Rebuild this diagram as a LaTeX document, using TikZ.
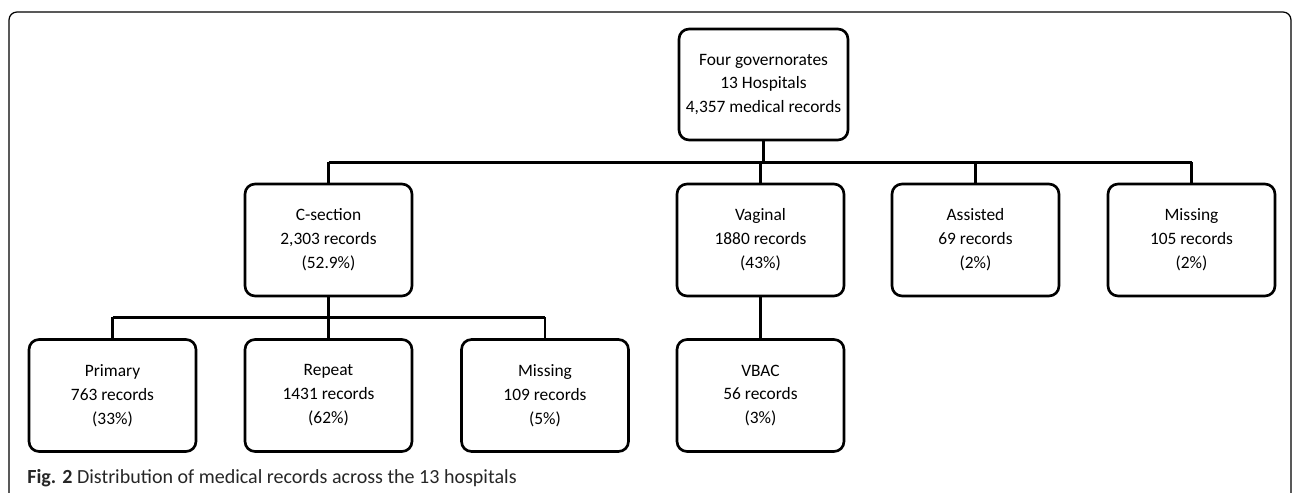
\documentclass[tikz,border=0pt]{standalone}
\usepackage{fontspec}
\setmainfont{Carlito}
\usepackage{tikz}
\usetikzlibrary{positioning,calc}

\begin{document}
\begin{tikzpicture}[x=0.02cm,y=-0.02cm,
  box/.style={draw,line width=1.5pt,rounded corners=0.2cm,minimum width=3.34cm,minimum height=2.24cm,align=center,inner sep=0pt,font=\fontsize{9.9}{13.6}\selectfont},
  link/.style={line width=1.5pt},
  frame/.style={line width=0.7pt,rounded corners=0.16cm}]
\useasboundingbox (0,0) rectangle (1292,493);
\draw[frame] (9,12) rectangle (1291,520);
% top level
\node[box,minimum width=3.38cm,minimum height=2.22cm] (top) at (763.5,84.5) {Four governorates\\13 Hospitals\\4,357 medical records};
% mode of delivery
\node[box] (cs) at (328.5,240) {C-section\\2,303 records\\(52.9\%)};
\node[box] (vag) at (760.5,240) {Vaginal\\1880 records\\(43\%)};
\node[box] (ass) at (975.5,240) {Assisted\\69 records\\(2\%)};
\node[box] (mis) at (1191.5,240) {Missing\\105 records\\(2\%)};
% type of c-section
\node[box] (pri) at (112.5,395.5) {Primary\\763 records\\(33\%)};
\node[box] (rep) at (328.5,395.5) {Repeat\\1431 records\\(62\%)};
\node[box] (csmis) at (545,395.5) {Missing\\109 records\\(5\%)};
\node[box] (vbac) at (760.5,395.5) {VBAC\\56 records\\(3\%)};
% connectors
\coordinate (bus1) at (0,162.5);
\coordinate (bus2) at (0,317.5);
\draw[link] (top.south) -- (top.south |- bus1);
\draw[link] (cs.north |- bus1) -- (mis.north |- bus1);
\foreach \n in {cs,vag,ass,mis}
  \draw[link] (\n.north) -- (\n.north |- bus1);
\draw[link] (cs.south) -- (cs.south |- bus2);
\draw[link] (pri.north |- bus2) -- (csmis.north |- bus2);
\foreach \n in {pri,rep,csmis}
  \draw[link] (\n.north) -- (\n.north |- bus2);
\draw[link] (vag.south) -- (vbac.north);
% caption
\node[anchor=base west,inner sep=0pt,text=black!85,font=\fontsize{11.4}{13}\selectfont] (cap) at (27,483) {\textbf{Fig. 2} Distribution of medical records across the 13 hospitals};
\end{tikzpicture}
\end{document}
